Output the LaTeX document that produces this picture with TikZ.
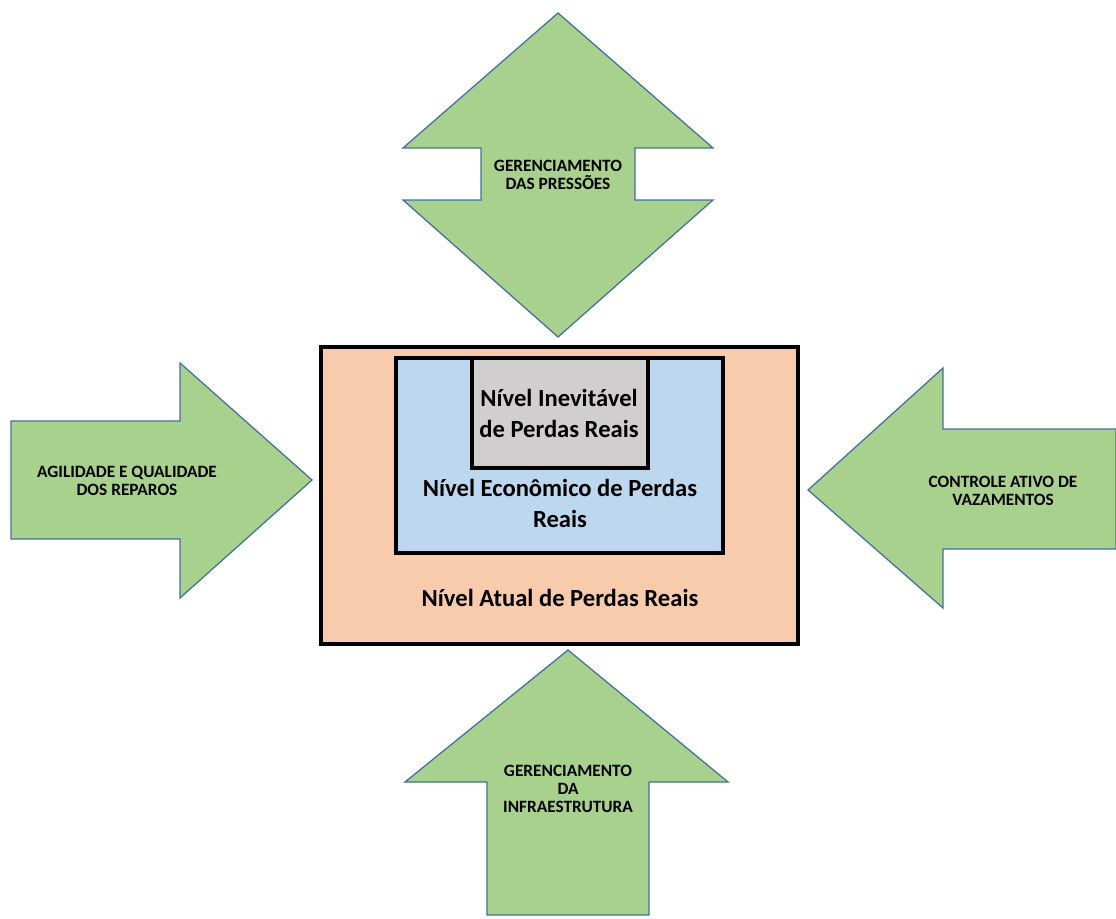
\documentclass[tikz,border=0pt]{standalone}
\usepackage{fontspec}
\setmainfont{Carlito}
\definecolor{arrowgreen}{HTML}{A9D18E}
\definecolor{arrowedge}{HTML}{41719C}
\definecolor{atualfill}{HTML}{F8CBAD}
\definecolor{economfill}{HTML}{BDD7EE}
\definecolor{inevfill}{HTML}{D0CECE}
\tikzset{
  blockarrow/.style={fill=arrowgreen, draw=arrowedge, line width=0.9pt, line join=miter},
  levelbox/.style={draw=black, line width=2.2pt},
  arrowtext/.style={font=\bfseries\fontsize{12.3}{13}\selectfont, align=center, inner sep=0pt},
  leveltext/.style={font=\bfseries\fontsize{17.5}{22}\selectfont, align=center, inner sep=0pt}
}
\begin{document}
\begin{tikzpicture}[x=0.025cm, y=-0.025cm]
    \useasboundingbox (0,0) rectangle (1116,919);
    \draw[blockarrow] (558,13) -- (713,148) -- (635,148) -- (635,200) -- (713,200) -- (558,337)
        -- (403,200) -- (481,200) -- (481,148) -- (403,148) -- cycle;
    \draw[blockarrow] (11,421) -- (180,421) -- (180,363) -- (312,480) -- (180,598) -- (180,539) -- (11,539) -- cycle;
    \draw[blockarrow] (1116,429) -- (943,429) -- (943,368) -- (808,490) -- (943,608) -- (943,549) -- (1116,549) -- cycle;
    \draw[blockarrow] (568,650) -- (728,782) -- (649,782) -- (649,915) -- (487,915) -- (487,782) -- (405,782) -- cycle;
    \draw[levelbox, fill=atualfill] (321,347) rectangle (798,644);
    \draw[levelbox, fill=economfill] (396,358) rectangle (723,553);
    \draw[levelbox, fill=inevfill] (472,358) rectangle (648,468);
    \node[arrowtext] (pressoes) at (558,175) {GERENCIAMENTO\\DAS PRESSÕES};
    \node[arrowtext] (reparos) at (127,481) {AGILIDADE E QUALIDADE\\DOS REPAROS};
    \node[arrowtext] (vazamentos) at (1003,491) {CONTROLE ATIVO DE\\VAZAMENTOS};
    \node[arrowtext] (infra) at (568,789) {GERENCIAMENTO\\DA\\INFRAESTRUTURA};
    \node[leveltext] (inev) at (559,413) {Nível Inevitável\\de Perdas Reais};
    \node[leveltext] (econ) at (560,503) {Nível Econômico de Perdas\\Reais};
    \node[leveltext] (atual) at (560,598) {Nível Atual de Perdas Reais};
\end{tikzpicture}
\end{document}
